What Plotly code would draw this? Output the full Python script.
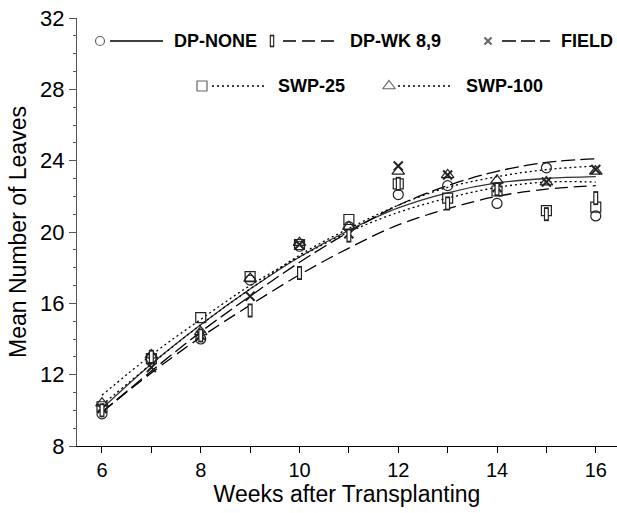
import plotly.graph_objects as go

weeks = [6, 7, 8, 9, 10, 11, 12, 13, 14, 15, 16]

# observed means
dp_none = [9.8, 12.9, 14.0, 17.3, 19.2, 20.3, 22.1, 22.6, 21.6, 23.6, 20.9]
dp_wk = [10.0, 13.0, 14.2, 15.6, 17.7, 19.8, 22.7, 21.6, 22.4, 21.0, 21.9]
field = [10.1, 12.4, 14.2, 16.4, 19.3, 19.9, 23.7, 23.2, 22.5, 22.8, 23.5]
swp25 = [10.2, 12.9, 15.2, 17.5, 19.3, 20.7, 22.7, 21.9, 22.3, 21.2, 21.4]
swp100 = [10.4, 13.1, 14.4, 17.4, 19.4, 20.3, 23.4, 23.2, 22.9, 22.8, 23.4]

# fitted curves (read at each week)
fit_dp_none = [10.1, 12.6, 14.8, 16.8, 18.6, 20.1, 21.35, 22.2, 22.75, 23.0, 23.1]
fit_dp_wk = [9.9, 12.1, 14.1, 15.9, 17.6, 19.1, 20.4, 21.3, 22.0, 22.4, 22.6]
fit_field = [9.9, 12.2, 14.4, 16.4, 18.3, 20.0, 21.5, 22.6, 23.4, 23.9, 24.1]
fit_swp25 = [10.85, 13.1, 15.1, 17.0, 18.6, 20.0, 21.1, 21.9, 22.5, 22.8, 22.8]
fit_swp100 = [10.3, 12.6, 14.8, 16.8, 18.7, 20.2, 21.5, 22.5, 23.1, 23.5, 23.7]

y_ticks = [8, 12, 16, 20, 24, 28, 32]
x_ticks = [6, 8, 10, 12, 14, 16]
labels = ["DP-NONE", "DP-WK 8,9", "FIELD", "SWP-25", "SWP-100"]

INK = "#222222"
dash_solid = "solid"
dash_long = "13px,6px"
dash_field = "14px,5px"
dash_dot = "2px,3px"

fig = go.Figure()

curves = [
    (fit_dp_none, dash_solid, "#333333"),
    (fit_dp_wk, dash_long, "#000000"),
    (fit_field, dash_field, "#000000"),
    (fit_swp25, dash_dot, "#000000"),
    (fit_swp100, dash_dot, "#000000"),
]
for vals, dash, col in curves:
    fig.add_trace(go.Scatter(x=weeks, y=vals, mode="lines", line_shape="spline",
                             line=dict(color=col, width=1.3, dash=dash),
                             showlegend=False, hoverinfo="skip"))

mk = dict(size=10, line=dict(color=INK, width=1.2))
fig.add_trace(go.Scatter(x=weeks, y=dp_none, mode="markers",
                         marker=dict(mk, symbol="circle-open", color=INK), showlegend=False))
fig.add_trace(go.Scatter(x=weeks, y=swp25, mode="markers",
                         marker=dict(mk, symbol="square-open", color=INK), showlegend=False))
fig.add_trace(go.Scatter(x=weeks, y=swp100, mode="markers",
                         marker=dict(mk, symbol="triangle-up-open", size=11, color=INK), showlegend=False))
fig.add_trace(go.Scatter(x=weeks, y=field, mode="markers",
                         marker=dict(symbol="x-thin-open", size=9, color=INK,
                                     line=dict(color=INK, width=2)), showlegend=False))
# narrow upright rectangle: thick dark stroke with a white core
fig.add_trace(go.Scatter(x=weeks, y=dp_wk, mode="markers",
                         marker=dict(symbol="line-ns", size=10, color=INK,
                                     line=dict(color=INK, width=5)),
                         showlegend=False, hoverinfo="skip"))
fig.add_trace(go.Scatter(x=weeks, y=dp_wk, mode="markers",
                         marker=dict(symbol="line-ns", size=7.4, color="white",
                                     line=dict(color="white", width=2.6)),
                         showlegend=False))

# ---- manual legend on a pixel-like overlay axis ----
leg_rows = [41, 41, 41, 86, 86]
leg_mark_x = [100, 272, 488, 202, 389]
leg_line = [(110, 163), (283, 336), (502, 550), (212, 266), (398, 452)]
leg_text_x = [172, 348, 559, 276, 464]
leg_dash = [dash_solid, dash_long, dash_field, dash_dot, dash_dot]

fig.add_trace(go.Scatter(x=[leg_mark_x[0], leg_mark_x[3], leg_mark_x[4], leg_mark_x[2]],
                         y=[leg_rows[0], leg_rows[3], leg_rows[4], leg_rows[2]],
                         mode="markers", xaxis="x2", yaxis="y2",
                         marker=dict(symbol=["circle-open", "square-open", "triangle-up-open", "x-thin-open"],
                                     size=[9, 10, 11, 7], color=INK,
                                     line=dict(color=INK, width=[1.2, 1.2, 1.2, 2])),
                         showlegend=False, hoverinfo="skip"))
fig.add_trace(go.Scatter(x=[leg_mark_x[1]], y=[leg_rows[1]], mode="markers",
                         xaxis="x2", yaxis="y2",
                         marker=dict(symbol="line-ns", size=9, color=INK, line=dict(color=INK, width=4.5)),
                         showlegend=False, hoverinfo="skip"))
fig.add_trace(go.Scatter(x=[leg_mark_x[1]], y=[leg_rows[1]], mode="markers",
                         xaxis="x2", yaxis="y2",
                         marker=dict(symbol="line-ns", size=6.6, color="white", line=dict(color="white", width=2.2)),
                         showlegend=False, hoverinfo="skip"))

shapes = []
annotations = []
for i, lab in enumerate(labels):
    x0, x1 = leg_line[i]
    shapes.append(dict(type="line", xref="x2", yref="y2", x0=x0, x1=x1,
                       y0=leg_rows[i], y1=leg_rows[i],
                       line=dict(color="#000000", width=1.3, dash=leg_dash[i])))
    annotations.append(dict(xref="x2", yref="y2", x=leg_text_x[i], y=leg_rows[i],
                            xanchor="left", yanchor="middle", showarrow=False,
                            text="<b>" + lab + "</b>",
                            font=dict(family="Liberation Sans", size=18, color="#000000")))

fig.update_layout(
    width=617, height=513,
    margin=dict(l=77, r=0, t=18, b=67),
    plot_bgcolor="white", paper_bgcolor="white",
    font=dict(family="Liberation Sans", size=22, color="#000000"),
    shapes=shapes, annotations=annotations,
    xaxis=dict(range=[5.494, 16.43], tickvals=x_ticks, ticks="outside", ticklen=6,
               tickcolor="#000000", showline=True, linecolor="#000000", linewidth=1.3,
               showgrid=False, zeroline=False,
               tickfont=dict(family="Liberation Sans", size=20),
               minor=dict(tickvals=[7, 9, 11, 13, 15], ticks="outside", ticklen=6,
                          tickcolor="#000000"),
               title=dict(text="Weeks after Transplanting", standoff=4,
                          font=dict(family="Liberation Sans", size=23))),
    yaxis=dict(range=[8, 32], tickvals=y_ticks, ticks="outside", ticklen=7,
               tickcolor="#555555", showline=True, linecolor="#555555", linewidth=1.3,
               showgrid=False, zeroline=False,
               tickfont=dict(family="Liberation Sans", size=22),
               minor=dict(dtick=1, ticks="outside", ticklen=3, tickcolor="#555555"),
               title=dict(text="Mean Number of Leaves", standoff=6,
                          font=dict(family="Liberation Sans", size=23))),
    xaxis2=dict(range=[77, 617], overlaying="x", visible=False, fixedrange=True),
    yaxis2=dict(range=[446, 18], overlaying="y", visible=False, fixedrange=True),
)

fig.write_html("out.html")
